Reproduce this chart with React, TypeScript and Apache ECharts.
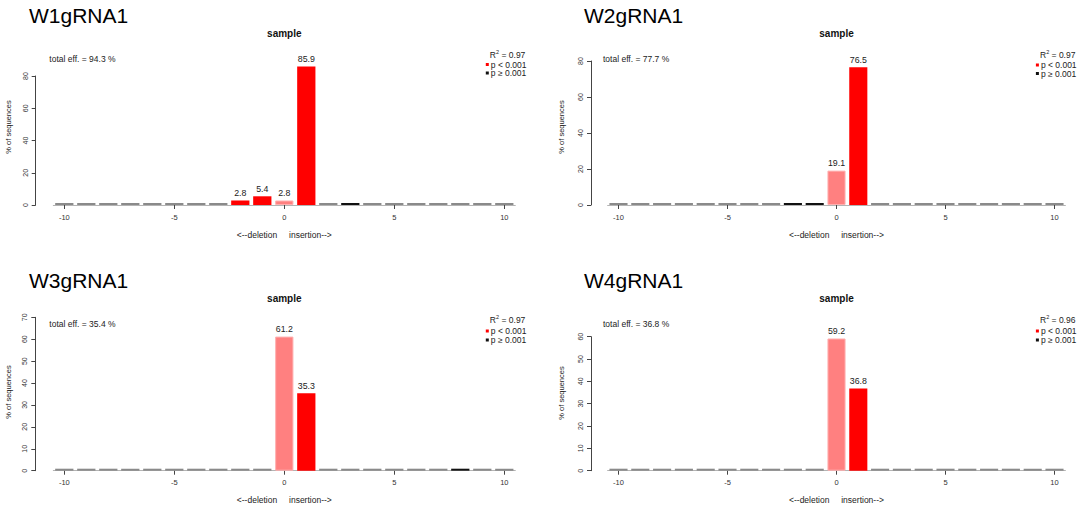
import React, { useEffect, useRef } from "react";
import * as echarts from "echarts";

// ---------- data ----------
const categories = ["-10", "-9", "-8", "-7", "-6", "-5", "-4", "-3", "-2", "-1", "0", "1", "2", "3", "4", "5", "6", "7", "8", "9", "10"];
const xTickLabels = ["-10", "-5", "0", "5", "10"];

const panelTitles = ["W1gRNA1", "W2gRNA1", "W3gRNA1", "W4gRNA1"];
const totalEff = ["total eff. = 94.3 %", "total eff. = 77.7 %", "total eff. = 35.4 %", "total eff. = 36.8 %"];
const rSquared = ["0.97", "0.97", "0.97", "0.96"];
const yMaxes = [80, 80, 70, 60];
const yIntervals = [20, 20, 10, 10];

// s = significant (p < 0.001), r = unmodified/reference, n = p >= 0.001
const w1Values = [0, 0, 0, 0, 0, 0, 0, 0, 2.8, 5.4, 2.8, 85.9, 0, 0.3, 0, 0, 0, 0, 0, 0, 0];
const w1Kinds = ["", "", "", "", "", "", "", "", "s", "s", "r", "s", "", "n", "", "", "", "", "", "", ""];
const w2Values = [0, 0, 0, 0, 0, 0, 0, 0, 0.9, 0.4, 19.1, 76.5, 0, 0, 0, 0, 0, 0, 0, 0, 0];
const w2Kinds = ["", "", "", "", "", "", "", "", "n", "n", "r", "s", "", "", "", "", "", "", "", "", ""];
const w3Values = [0, 0, 0, 0, 0, 0, 0, 0, 0, 0, 61.2, 35.3, 0, 0, 0, 0, 0, 0, 0.2, 0, 0];
const w3Kinds = ["", "", "", "", "", "", "", "", "", "", "r", "s", "", "", "", "", "", "", "n", "", ""];
const w4Values = [0, 0, 0, 0, 0, 0, 0, 0, 0, 0, 59.2, 36.8, 0, 0, 0, 0, 0, 0, 0, 0, 0];
const w4Kinds = ["", "", "", "", "", "", "", "", "", "", "r", "s", "", "", "", "", "", "", "", "", ""];

const allValues = [w1Values, w2Values, w3Values, w4Values];
const allKinds = [w1Kinds, w2Kinds, w3Kinds, w4Kinds];

const plotTitle = "sample";
const xName = "<--deletion     insertion-->";
const yName = "% of sequences";
const legendLabels = ["p < 0.001", "p \u2265 0.001"];

// ---------- layout ----------
const layouts = [
  { left: 53.3, width: 462, top: 76, height: 129, yOffset: 17.6, titleX: 29, titleY: 15.8, sampleY: 33, effX: 49.3, effY: 59.3, legY: [55, 64.5, 73], yTitleX: 8.6, yTitleY: 127 },
  { left: 607.6, width: 457.8, top: 61, height: 144, yOffset: 16.6, titleX: 584, titleY: 15.8, sampleY: 33, effX: 603, effY: 58.8, legY: [55, 65, 73.5], yTitleX: 561.4, yTitleY: 127 },
  { left: 53.3, width: 462, top: 317.3, height: 153.4, yOffset: 18, titleX: 29, titleY: 280, sampleY: 298, effX: 49.3, effY: 324, legY: [320, 331, 340], yTitleX: 8.6, yTitleY: 392 },
  { left: 607.6, width: 457.8, top: 336.7, height: 134, yOffset: 16.6, titleX: 584, titleY: 280, sampleY: 298, effX: 603, effY: 324, legY: [320, 331, 340], yTitleX: 561.4, yTitleY: 393 },
];

const FF = '"Liberation Sans", Arial, Helvetica, sans-serif';
const RED = "#ff0000";
const LIGHT = "#ff8080";
const BLACK = "#111111";
const ZERO = "#8a8a8a";

function colorFor(v: number, k: string) {
  if (v === 0) return ZERO;
  if (k === "s") return RED;
  if (k === "r") return LIGHT;
  return BLACK;
}

export default function App() {
  const ref = useRef<HTMLDivElement>(null);

  useEffect(() => {
    if (!ref.current) return;
    document.body.style.margin = "0";
    const chart = echarts.init(ref.current, null, { renderer: "svg" });

    const tickFilter = (_i: number, v: string) => xTickLabels.includes(v);

    const grids = layouts.map((l) => ({ left: l.left, top: l.top, width: l.width, height: l.height, containLabel: false }));

    const xAxes = layouts.map((_l, i) => ({
      type: "category",
      gridIndex: i,
      data: categories,
      axisLine: { show: true, lineStyle: { color: "#b4b4b4", width: 1 } },
      axisTick: { show: true, alignWithLabel: true, interval: tickFilter, length: 4, lineStyle: { color: "#444" } },
      axisLabel: { interval: tickFilter, fontSize: 7.5, color: "#333", margin: 8, fontFamily: FF },
      splitLine: { show: false },
      name: xName,
      nameLocation: "middle",
      nameGap: 25,
      nameTextStyle: { fontSize: 8.5, color: "#222", fontFamily: FF },
    }));

    const yAxes = layouts.map((l, i) => ({
      type: "value",
      gridIndex: i,
      min: 0,
      max: yMaxes[i],
      interval: yIntervals[i],
      offset: l.yOffset,
      axisLine: { show: true, lineStyle: { color: "#444", width: 1 } },
      axisTick: { show: true, length: 4, lineStyle: { color: "#444" } },
      axisLabel: { rotate: 90, fontSize: 7, color: "#333", margin: 7, fontFamily: FF },
      splitLine: { show: false },
    }));

    const series = allValues.map((vals, i) => ({
      type: "bar",
      xAxisIndex: i,
      yAxisIndex: i,
      barWidth: "83%",
      barMinHeight: 2,
      clip: false,
      label: {
        show: true,
        position: "top",
        distance: 3,
        fontSize: 8.8,
        color: "#222",
        fontFamily: FF,
        formatter: (p: any) => Number(p.value).toFixed(1),
      },
      data: vals.map((v, j) => ({
        value: v,
        itemStyle: {
          color: colorFor(v, allKinds[i][j]),
          borderColor: allKinds[i][j] === "r" && v > 0 ? "#ffb0b0" : undefined,
          borderWidth: allKinds[i][j] === "r" && v > 0 ? 1 : 0,
        },
        label: { show: v >= 1 },
      })),
    }));

    const graphic: any[] = [];
    layouts.forEach((l, i) => {
      const right = l.left + l.width;
      const center = l.left + l.width / 2;
      graphic.push({
        type: "text", x: l.titleX, y: l.titleY,
        style: { text: panelTitles[i], fill: "#000", font: `21px ${FF}`, align: "left", verticalAlign: "middle" },
      });
      graphic.push({
        type: "text", x: center, y: l.sampleY,
        style: { text: plotTitle, fill: "#111", font: `bold 10px ${FF}`, align: "center", verticalAlign: "middle" },
      });
      graphic.push({
        type: "text", x: l.effX, y: l.effY,
        style: { text: totalEff[i], fill: "#222", font: `8.5px ${FF}`, align: "left", verticalAlign: "middle" },
      });
      graphic.push({
        type: "text", x: l.yTitleX, y: l.yTitleY, rotation: Math.PI / 2,
        style: { text: yName, fill: "#222", font: `7.5px ${FF}`, align: "center", verticalAlign: "middle" },
      });
      // legend
      const rStart = right - 9 - 16.5;
      graphic.push({
        type: "text", x: rStart, y: l.legY[0],
        style: { text: "R", fill: "#222", font: `8.5px ${FF}`, align: "left", verticalAlign: "middle" },
      });
      graphic.push({
        type: "text", x: rStart + 6.3, y: l.legY[0] - 3,
        style: { text: "2", fill: "#222", font: `5.5px ${FF}`, align: "left", verticalAlign: "middle" },
      });
      graphic.push({
        type: "text", x: rStart + 9.3, y: l.legY[0],
        style: { text: " = " + rSquared[i], fill: "#222", font: `8.5px ${FF}`, align: "left", verticalAlign: "middle" },
      });
      [RED, BLACK].forEach((c, k) => {
        graphic.push({
          type: "rect", shape: { x: right - 29.5, y: l.legY[k + 1] - 1.5, width: 3, height: 3 }, style: { fill: c },
        });
        graphic.push({
          type: "text", x: right - 24.5, y: l.legY[k + 1],
          style: { text: legendLabels[k], fill: "#222", font: `8.5px ${FF}`, align: "left", verticalAlign: "middle" },
        });
      });
    });

    chart.setOption({
      animation: false,
      backgroundColor: "#ffffff",
      grid: grids,
      xAxis: xAxes,
      yAxis: yAxes,
      series,
      graphic,
    } as any);

    return () => chart.dispose();
  }, []);

  return <div ref={ref} style={{ position: "absolute", left: 0, top: 0, width: 1084, height: 509 }} />;
}
